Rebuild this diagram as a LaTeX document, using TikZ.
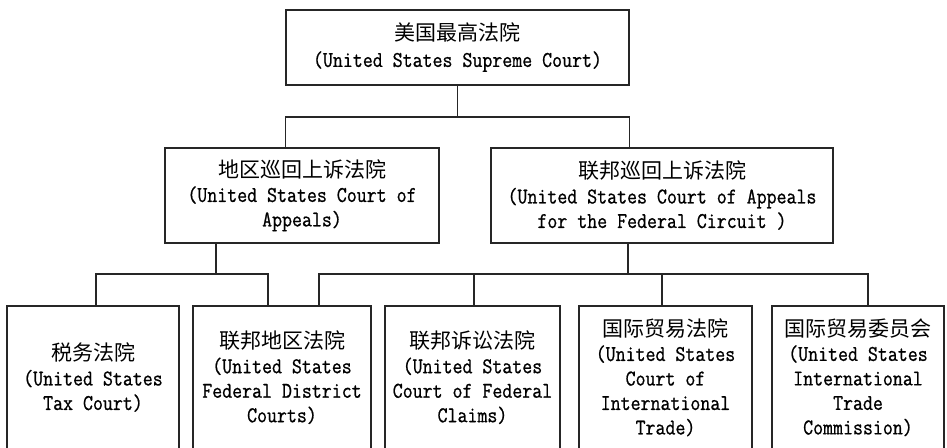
\documentclass[tikz,border=0pt]{standalone}
\usepackage{fontspec}
\usepackage{tikz}
\setmonofont{Latin Modern Mono}[FakeStretch=0.86, FakeBold=0.8]
\newfontfamily\cjk{Noto Sans CJK SC}
\newcommand{\zh}[1]{{\cjk\fontsize{21}{25}\selectfont #1}}

\begin{document}
\begin{tikzpicture}[x=1pt,y=-1pt,line width=1.3pt,
		court/.style={draw=black!85, inner sep=0pt, align=center,
			font=\fontsize{22.5}{24.5}\selectfont\ttfamily},
		lowcourt/.style={court, minimum height=143pt}]
		\useasboundingbox (0,0) rectangle (947,447);
		\clip (0,0) rectangle (947,447);
		% top
		\node [court, minimum width=343pt, minimum height=75pt] (sup) at (457.5,47.5) {\zh{美国最高法院}\\[1.5pt](United States Supreme Court)};
		% circuits
		\node [court, minimum width=274pt, minimum height=95pt] (ca) at (302,195.5) {\zh{地区巡回上诉法院}\\(United States Court of\\Appeals)};
		\node [court, minimum width=342pt, minimum height=95pt] (cafc) at (662,195.5) {\zh{联邦巡回上诉法院}\\(United States Court of Appeals\\for the Federal Circuit )};
		% trial courts
		\node [lowcourt, minimum width=172pt] (tax) at (93,377.5) {\zh{税务法院}\\(United States\\Tax Court)};
		\node [lowcourt, minimum width=178pt] (dist) at (282,377.5) {\zh{联邦地区法院}\\(United States\\Federal District\\Courts)};
		\node [lowcourt, minimum width=175pt] (claims) at (472.5,377.5) {\zh{联邦诉讼法院}\\(United States\\Court of Federal\\Claims)};
		\node [lowcourt, minimum width=173pt] (cit) at (665.5,377.5) {\zh{国际贸易法院}\\(United States\\Court of\\International\\Trade)};
		\node [lowcourt, minimum width=172pt] (itc) at (858,377.5) {\zh{国际贸易委员会}\\(United States\\International\\Trade\\Commission)};
		% bus points
		\coordinate (tbus) at (457.5,117);
		\coordinate (lbus) at (216,274);
		\coordinate (rbus) at (628,274);
		% connectors
		\draw [black!85] (sup) -- (tbus);
		\draw [black!85] (ca.north -| sup.west) |- (tbus) -| (cafc.north -| sup.east);
		\draw [black!85] (ca.south -| lbus) -- (lbus);
		\draw [black!85] ([xshift=3pt]tax.north) |- (lbus) -| ([xshift=-14pt]dist.north);
		\draw [black!85] (cafc.south -| rbus) -- (rbus);
		\draw [black!85] ([xshift=37pt]dist.north) |- (rbus) -| ([xshift=10pt]itc.north);
		\draw [black!85] ([xshift=1.5pt]claims.north) -- ([xshift=1.5pt]claims.north |- rbus);
		\draw [black!85] ([xshift=-3.5pt]cit.north) -- ([xshift=-3.5pt]cit.north |- rbus);
	\end{tikzpicture}
\end{document}
